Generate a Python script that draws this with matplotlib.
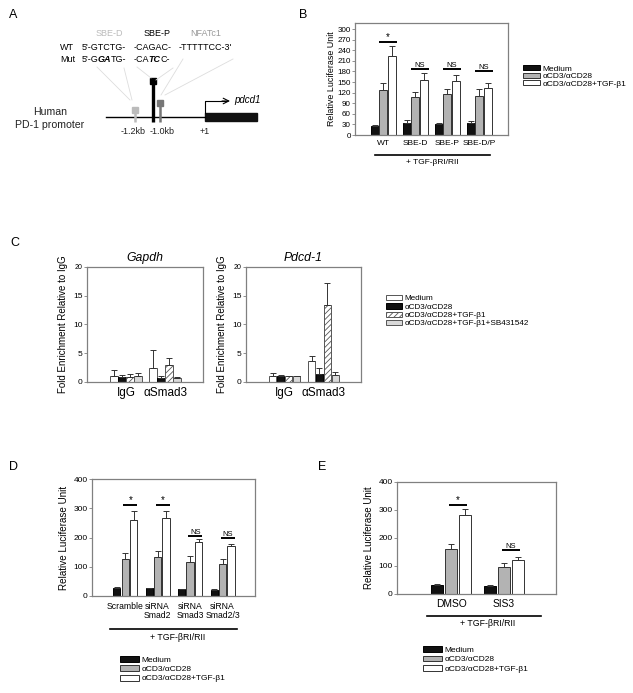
import numpy as np
import matplotlib
matplotlib.use('Agg')
import matplotlib.pyplot as plt
from matplotlib.patches import Patch, Rectangle
from matplotlib.legend import Legend

plt.rcParams['font.family'] = ['Liberation Sans', 'DejaVu Sans']
plt.rcParams['hatch.linewidth'] = 0.6

W, H = 633, 693

# ---- panel B data ----
b_groups = ['WT', 'SBE-D', 'SBE-P', 'SBE-D/P']
b_medium = [25, 34, 31, 35]
b_medium_err = [3, 8, 2, 4]
b_cd3 = [127, 108, 116, 110]
b_cd3_err = [19, 14, 14, 21]
b_tgf = [225, 156, 153, 132]
b_tgf_err = [27, 19, 16, 15]
b_sig = ['*', 'NS', 'NS', 'NS']
b_sig_y = [264, 187, 187, 181]

# ---- panel C data ----
c_groups = ['IgG', 'αSmad3']
gapdh_medium = [1.0, 2.5]
gapdh_medium_err = [1.1, 3.1]
gapdh_cd3 = [0.9, 0.75]
gapdh_cd3_err = [0.3, 0.3]
gapdh_tgf = [0.9, 3.0]
gapdh_tgf_err = [0.5, 1.1]
gapdh_sb = [1.0, 0.75]
gapdh_sb_err = [0.6, 0.15]
pdcd_medium = [1.0, 3.6]
pdcd_medium_err = [0.5, 1.0]
pdcd_cd3 = [1.0, 1.45]
pdcd_cd3_err = [0.3, 0.95]
pdcd_tgf = [1.0, 13.4]
pdcd_tgf_err = [0.0, 3.8]
pdcd_sb = [1.0, 1.3]
pdcd_sb_err = [0.0, 0.4]

# ---- panel D data ----
d_groups = ['Scramble', 'siRNA\nSmad2', 'siRNA\nSmad3', 'siRNA\nSmad2/3']
d_medium = [29, 26, 23, 22]
d_medium_err = [3, 3, 2, 2]
d_cd3 = [127, 133, 117, 110]
d_cd3_err = [20, 22, 20, 18]
d_tgf = [259, 265, 183, 172]
d_tgf_err = [31, 26, 12, 6]
d_sig = ['*', '*', 'NS', 'NS']
d_sig_y = [310, 310, 204, 200]

# ---- panel E data ----
e_groups = ['DMSO', 'SIS3']
e_medium = [31, 28]
e_medium_err = [3, 3]
e_cd3 = [159, 96]
e_cd3_err = [18, 15]
e_tgf = [283, 122]
e_tgf_err = [20, 9]
e_sig = ['*', 'NS']
e_sig_y = [319, 157]

lum_labels = ['Medium', 'αCD3/αCD28', 'αCD3/αCD28+TGF-β1']
chip_labels = ['Medium', 'αCD3/αCD28', 'αCD3/αCD28+TGF-β1', 'αCD3/αCD28+TGF-β1+SB431542']

SPINE = '#808080'
EDGE = '#333333'


def rect(x0, y0, x1, y1):
    return [x0 / W, 1 - y1 / H, (x1 - x0) / W, (y1 - y0) / H]


def style_axes(ax, ytick_size):
    for s in ax.spines.values():
        s.set_color(SPINE)
        s.set_linewidth(0.9)
    ax.tick_params(axis='x', length=0)
    ax.tick_params(axis='y', length=2, width=0.6, color=SPINE, labelsize=ytick_size, pad=1)


def bars(ax, x, vals, errs, face, width, hatch=None, edge=EDGE):
    ax.bar(x, vals, width, color=face, edgecolor=edge, linewidth=0.7, hatch=hatch, zorder=2)
    ax.errorbar(x, vals, yerr=[np.zeros(len(errs)), errs], fmt='none', ecolor=EDGE,
                elinewidth=0.7, capsize=2.2, capthick=0.7, zorder=3)


fig = plt.figure(figsize=(W / 100, H / 100), dpi=100)

# overlay axes in pixel coordinates for diagram and annotations
ov = fig.add_axes([0, 0, 1, 1], zorder=10)
ov.set_xlim(0, W)
ov.set_ylim(H, 0)
ov.axis('off')
ov.patch.set_visible(False)

for lab, (x, y) in zip('ABCDE', [(13, 15), (303, 15), (15, 243), (13, 467), (322, 467)]):
    ov.text(x, y, lab, fontsize=9, ha='center', va='center')

# ---- panel A: promoter diagram ----
ov.text(109, 33, 'SBE-D', fontsize=6.5, color='#bbbbbb', ha='center', va='center')
ov.text(157, 33, 'SBE-P', fontsize=6.5, color='black', ha='center', va='center')
ov.text(206, 33, 'NFATc1', fontsize=6.5, color='#999999', ha='center', va='center')
ov.text(60, 48, 'WT', fontsize=6.5, va='center')
ov.text(82, 48, "5'-GTCTG-", fontsize=6.5, va='center')
ov.text(134, 48, '-CAGAC-', fontsize=6.5, va='center')
ov.text(179, 48, "-TTTTTCC-3'", fontsize=6.5, va='center')
ov.text(60, 60, 'Mut', fontsize=6.5, va='center')


def chain(pieces, x, y):
    t = ov.text(x, y, pieces[0][0], fontsize=6.5, va='baseline', **pieces[0][1])
    for s, kw, dx in pieces[1:]:
        t = ov.annotate(s, xy=(1, 0), xycoords=t, xytext=(dx, 0), textcoords='offset points',
                        va='bottom', ha='left', fontsize=6.5, **kw)


bi = dict(fontweight='bold', fontstyle='italic')
chain([("5'-G", {}), ('GA', bi, -1.0), ('TG-', {}, 0.0)], 82, 62.5)
chain([('-CA', {}), ('TC', bi, -0.8), ('C-', {}, 0.0)], 134, 62.5)

lc = '#dddddd'
for (x0, y0, x1, y1) in [(97, 67, 130, 100), (124, 68, 132, 100), (137, 67, 151, 78),
                         (173, 68, 156, 80), (183, 59, 161, 95), (233, 59, 165, 95)]:
    ov.plot([x0, x1], [y0, y1], color=lc, lw=0.6)

ov.plot([106, 205], [117, 117], color='black', lw=1.0)
ov.add_patch(Rectangle((205, 113), 52, 8, color='#111111'))
ov.plot([205, 205, 226], [113, 101, 101], color='black', lw=0.8)
ov.annotate('', xy=(230, 101), xytext=(222, 101),
            arrowprops=dict(arrowstyle='->', lw=0.8, color='black', shrinkA=0, shrinkB=0))
ov.text(234, 100, 'pdcd1', fontsize=7, fontstyle='italic', va='center')
ov.text(50, 112, 'Human', fontsize=7.6, ha='center', va='center', color='#222222')
ov.text(50, 125, 'PD-1 promoter', fontsize=7.6, ha='center', va='center', color='#222222')

for x, ytop, col, lw in [(135, 110, '#bbbbbb', 1.8), (153, 81, '#000000', 2.4), (160, 103, '#777777', 1.8)]:
    ov.plot([x, x], [ytop, 122], color=col, lw=lw, solid_capstyle='butt')
    ov.add_patch(Rectangle((x - 2.7, ytop - 2.7), 5.4, 5.4, color=col))
ov.text(133, 131, '-1.2kb', fontsize=6.5, ha='center', va='center', color='#222222')
ov.text(162, 131, '-1.0kb', fontsize=6.5, ha='center', va='center', color='#222222')
ov.text(205, 131, '+1', fontsize=6.5, ha='center', va='center', color='#222222')


def sig_mark(ax, x0, x1, y, txt, fs):
    ax.plot([x0, x1], [y, y], color='black', lw=1.4, solid_capstyle='butt', zorder=4)
    ax.text((x0 + x1) / 2, y, txt, ha='center', va='bottom', fontsize=fs)


def add_legend(handles, labels, x, y, fs, hl, hh, ls):
    leg = Legend(ov, handles, labels, loc='upper left', bbox_to_anchor=(x, y),
                 bbox_transform=ov.transData, frameon=False, fontsize=fs, borderpad=0,
                 handlelength=hl, handleheight=hh, handletextpad=0.3, labelspacing=ls,
                 borderaxespad=0)
    ov.add_artist(leg)


# ---- panel B ----
axB = fig.add_axes(rect(355, 23, 508, 135))
xb = np.arange(len(b_groups))
bars(axB, xb - 0.27, b_medium, b_medium_err, '#111111', 0.25, edge='black')
bars(axB, xb, b_cd3, b_cd3_err, '#b3b3b3', 0.25)
bars(axB, xb + 0.27, b_tgf, b_tgf_err, 'white', 0.25)
for i, (s, y) in enumerate(zip(b_sig, b_sig_y)):
    sig_mark(axB, i - 0.12, i + 0.42, y, s, 7 if s == '*' else 5.5)
axB.set_xlim(-0.88, 3.9)
axB.set_ylim(0, 317)
axB.set_yticks(np.arange(0, 301, 30))
axB.set_xticks(xb)
axB.set_xticklabels(b_groups, fontsize=6)
axB.set_ylabel('Relative Luciferase Unit', fontsize=6.4, labelpad=1)
style_axes(axB, 5.8)
ov.plot([375, 490], [155, 155], color='black', lw=1.2)
ov.text(432, 163, '+ TGF-βRI/RII', fontsize=6, ha='center', va='center')

lum_handles = [Patch(facecolor='#111111', edgecolor='black', lw=0.7),
               Patch(facecolor='#b3b3b3', edgecolor=EDGE, lw=0.7),
               Patch(facecolor='white', edgecolor=EDGE, lw=0.7)]
add_legend(lum_handles, lum_labels, 523, 65, 6, 2.0, 0.6, 0.0)

# ---- panel C ----
chip_style = [('white', None), ('#111111', None), ('white', '//////'), ('#d9d9d9', None)]
for rct, title, series in [
        (rect(87, 267, 203, 382), 'Gapdh',
         [(gapdh_medium, gapdh_medium_err), (gapdh_cd3, gapdh_cd3_err),
          (gapdh_tgf, gapdh_tgf_err), (gapdh_sb, gapdh_sb_err)]),
        (rect(246, 267, 361, 382), 'Pdcd-1',
         [(pdcd_medium, pdcd_medium_err), (pdcd_cd3, pdcd_cd3_err),
          (pdcd_tgf, pdcd_tgf_err), (pdcd_sb, pdcd_sb_err)])]:
    ax = fig.add_axes(rct)
    xc = np.arange(len(c_groups))
    for k, ((vals, errs), (face, hatch)) in enumerate(zip(series, chip_style)):
        edge = 'black' if face == '#111111' else '#555555'
        bars(ax, xc + (k - 1.5) * 0.205, vals, errs, face, 0.19, hatch=hatch, edge=edge)
    ax.set_xlim(-1.0, 1.97)
    ax.set_ylim(0, 20)
    ax.set_yticks([0, 5, 10, 15, 20])
    ax.set_xticks(xc)
    ax.set_xticklabels(c_groups, fontsize=8.5)
    ax.set_title(title, fontsize=8.8, fontstyle='italic', pad=4)
    ax.set_ylabel('Fold Enrichment Relative to IgG', fontsize=7, labelpad=4)
    style_axes(ax, 6)
    ax.get_yticklabels()[-1].set_fontsize(5)

chip_handles = [Patch(facecolor='white', edgecolor='#555555', lw=0.7),
                Patch(facecolor='#111111', edgecolor='black', lw=0.7),
                Patch(facecolor='white', edgecolor='#555555', lw=0.7, hatch='//////'),
                Patch(facecolor='#d9d9d9', edgecolor='#555555', lw=0.7)]
add_legend(chip_handles, chip_labels, 386, 295, 5.9, 2.0, 0.6, 0.1)

# ---- panel D ----
axD = fig.add_axes(rect(92, 479, 255, 596))
xd = np.arange(len(d_groups))
bars(axD, xd - 0.26, d_medium, d_medium_err, '#111111', 0.22, edge='black')
bars(axD, xd, d_cd3, d_cd3_err, '#b3b3b3', 0.22)
bars(axD, xd + 0.26, d_tgf, d_tgf_err, 'white', 0.22)
for i, (s, y) in enumerate(zip(d_sig, d_sig_y)):
    sig_mark(axD, i - 0.06, i + 0.38, y, s, 7 if s == '*' else 5.5)
axD.set_xlim(-1.02, 4.0)
axD.set_ylim(0, 400)
axD.set_yticks([0, 100, 200, 300, 400])
axD.set_xticks(xd)
axD.set_xticklabels(d_groups, fontsize=6.2, linespacing=1.1)
axD.tick_params(axis='x', pad=4)
axD.set_ylabel('Relative Luciferase Unit', fontsize=7.1, labelpad=3)
style_axes(axD, 6)
ov.plot([110, 237], [629, 629], color='black', lw=1.2)
ov.text(178, 637, '+ TGF-βRI/RII', fontsize=6.3, ha='center', va='center')
add_legend(lum_handles, lum_labels, 120, 656, 6, 2.3, 0.7, 0.18)

# ---- panel E ----
axE = fig.add_axes(rect(397, 482, 556, 594))
xe = np.arange(len(e_groups))
bars(axE, xe - 0.265, e_medium, e_medium_err, '#111111', 0.22, edge='black')
bars(axE, xe, e_cd3, e_cd3_err, '#b3b3b3', 0.22)
bars(axE, xe + 0.265, e_tgf, e_tgf_err, 'white', 0.22)
for i, (s, y) in enumerate(zip(e_sig, e_sig_y)):
    sig_mark(axE, i - 0.04, i + 0.30, y, s, 7 if s == '*' else 5.5)
axE.set_xlim(-1.02, 1.98)
axE.set_ylim(0, 400)
axE.set_yticks([0, 100, 200, 300, 400])
axE.set_xticks(xe)
axE.set_xticklabels(e_groups, fontsize=7.4)
axE.set_ylabel('Relative Luciferase Unit', fontsize=7, labelpad=3)
style_axes(axE, 6)
ov.plot([427, 541], [616, 616], color='black', lw=1.2)
ov.text(488, 624, '+ TGF-βRI/RII', fontsize=6.3, ha='center', va='center')
add_legend(lum_handles, lum_labels, 423, 646, 6, 2.3, 0.7, 0.2)

fig.savefig('out.png', dpi=100)
